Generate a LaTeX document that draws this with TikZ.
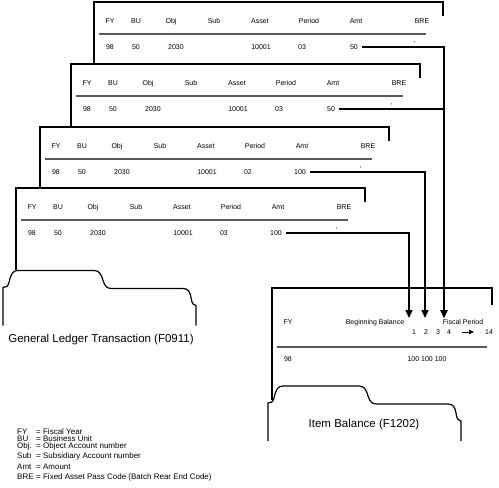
\documentclass[tikz,border=0pt]{standalone}
\usepackage{fontspec}
\setmainfont{Liberation Sans}
\usetikzlibrary{arrows.meta, positioning, calc}

\begin{document}
\begin{tikzpicture}[
        x=1pt, y=-1pt,
        cell/.style={font=\fontsize{7}{8}\selectfont, inner sep=0pt, text height=5pt, text depth=0pt},
        legend/.style={font=\fontsize{8}{8}\selectfont, inner sep=0pt, anchor=west, text height=5.6pt, text depth=0pt},
        caption/.style={font=\fontsize{11.5}{13}\selectfont, inner sep=0pt},
        card/.style={line width=1.2pt},
        rule/.style={line width=1.3pt, black!65},
        feed/.style={line width=1.5pt, -{Triangle[length=8pt, width=7pt]}},
        foldertab/.pic={
            \draw[card] (0,55) -- (0,17) .. controls (3,17) and (5,16) .. (6,12)
                .. controls (8,3) and (10,0) .. (15,0) -- (91,0)
                .. controls (96,0) and (98,3) .. (100,10)
                .. controls (102,16) and (104,18) .. (109,18) -- (180,18)
                .. controls (185,18) and (187,21) .. (188,27)
                .. controls (189,33) and (190,35) .. (193,35) -- (193,55);
        }
    ]
    \useasboundingbox (0,0) rectangle (499,488);

    % the four ledger records
    \foreach \cx/\cy/\drop/\per/\amt/\id in {94/2/62/03/50/A, 71/64/63/03/50/B, 40/127/61/02/100/C, 16/188/82/03/100/D}{
        \draw[card] (\cx,\cy+\drop) -- (\cx,\cy) -- (\cx+349,\cy) -- (\cx+349,\cy+14);
        \node[cell] (fy\id) at (\cx+16,\cy+19) {FY};
        \node[cell] (bu\id) at (\cx+42,\cy+19) {BU};
        \node[cell] (obj\id) at (\cx+77,\cy+19) {Obj};
        \node[cell] (sub\id) at (\cx+120,\cy+19) {Sub};
        \node[cell] (asset\id) at (\cx+166,\cy+19) {Asset};
        \node[cell] (period\id) at (\cx+215,\cy+19) {Period};
        \node[cell] (amthd\id) at (\cx+262,\cy+19) {Amt};
        \node[cell] (brehd\id) at (\cx+328,\cy+19) {BRE};
        \draw[rule] (\cx+5,\cy+32) -- (\cx+332,\cy+32);
        \node[cell] (yr\id) at (\cx+16,\cy+45) {98};
        \node[cell] (unit\id) at (\cx+42,\cy+45) {50};
        \node[cell] (acct\id) at (\cx+82,\cy+45) {2030};
        \node[cell] (asno\id) at (\cx+167,\cy+45) {10001};
        \node[cell] (per\id) at (\cx+208,\cy+45) {\per};
        \node[cell] (amt\id) at (\cx+260,\cy+45) {\amt};
        \node[cell] (bre\id) at (\cx+321,\cy+42) {'};
    }
    \pic at (3,270.5) {foldertab};
    \node[caption] (glTitle) at (101,340) {General Ledger Transaction (F0911)};

    % item balance record
    \draw[card] (272,400) -- (272,288) -- (492,288) -- (492,305);
    \node[cell] (ibFY) at (288,322) {FY};
    \node[cell] (ibBeg) at (375,322) {Beginning Balance};
    \node[cell] (ibFP) at (463,322) {Fiscal Period};
    \node[cell] (p1) at (414,332) {1};
    \node[cell] (p2) at (426,332) {2};
    \node[cell] (p3) at (438,332) {3};
    \node[cell] (p4) at (449,332) {4};
    \node[cell] (p14) at (489,332) {14};
    \coordinate (runS) at (462,332);
    \coordinate (runE) at (474,332);
    \draw[line width=0.8pt, -{Triangle[length=5pt, width=4.5pt]}] (runS) -- (runE);
    \draw[rule] (277,347) -- (487,347);
    \node[cell] (ib98) at (288,359) {98};
    \node[cell] (ibAmt) at (427,359) {100 100 100};
    \pic at (268,386) {foldertab};
    \node[caption] (ibTitle) at (364,425) {Item Balance (F1202)};

    % postings into the periods
    \coordinate (inA) at (444,318);
    \coordinate (inB) at (444,318);
    \coordinate (inC) at (425,318);
    \coordinate (inD) at (409,318);
    \draw[feed] ([xshift=4pt]amtA.east) -| (inA);
    \draw[feed, line width=2.4pt] ([xshift=4pt]amtB.east) -| (inB);
    \draw[feed] ([xshift=4pt]amtC.east) -| (inC);
    \draw[feed] ([xshift=4pt]amtD.east) -| (inD);

    % key
    \foreach \ly/\ab/\txt/\nm in {432/FY/Fiscal Year/fy, 439/BU/Business Unit/bu, 446/Obj./Object Account number/obj, 456/Sub/Subsidiary Account number/sub, 467/Amt/Amount/amt, 477/BRE/Fixed Asset Pass Code (Batch Rear End Code)/bre}{
        \node[legend] (key\nm) at (17,\ly) {\ab};
        \node[legend] (def\nm) at (36,\ly) {= \txt};
    }
\end{tikzpicture}
\end{document}
